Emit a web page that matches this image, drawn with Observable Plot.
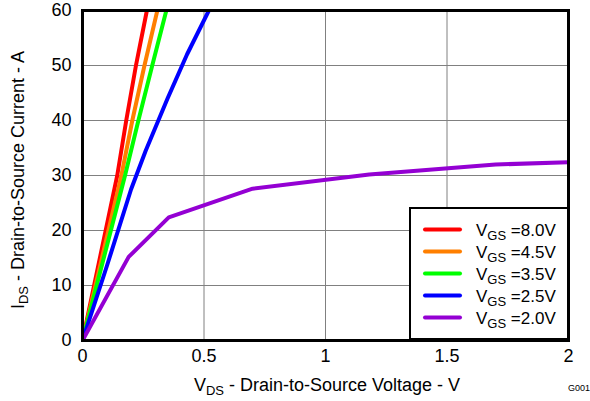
<!DOCTYPE html>
<html><head><meta charset="utf-8">
<script src="https://cdn.jsdelivr.net/npm/d3@7"></script>
<script src="https://cdn.jsdelivr.net/npm/@observablehq/plot@0.6"></script>
<style>body{margin:0;background:#fff;font-family:"Liberation Sans",Arial,sans-serif;}</style>
</head><body><div id="chart"></div>
<script>
const seriesNames = ["8.0V", "4.5V", "3.5V", "2.5V", "2.0V"];
const seriesColors = ["#ff0000", "#ff7f00", "#00ff00", "#0000ff", "#9400d3"];
const vgs80 = [[0,0],[0.143,30],[0.18,40],[0.22,50],[0.265,60]];
const vgs45 = [[0,0],[0.16,30],[0.205,40],[0.255,50],[0.308,60]];
const vgs35 = [[0,0],[0.175,30],[0.23,40],[0.287,50],[0.345,60]];
const vgs25 = [[0,0],[0.1,13.5],[0.2,27.5],[0.26,34.5],[0.35,44],[0.43,52],[0.52,60]];
const vgs20 = [[0,0],[0.19,15.2],[0.355,22.4],[0.70,27.6],[1.18,30.2],[1.70,32.0],[2.0,32.4]];
const xTicks = [0, 0.5, 1, 1.5, 2];
const yTicks = [0, 10, 20, 30, 40, 50, 60];

const allSeries = [vgs80, vgs45, vgs35, vgs25, vgs20];
const data = [];
allSeries.forEach((s, i) => s.forEach(([x, y]) => data.push({x, y, s: seriesNames[i]})));

const W = 590, H = 401;
const chart = Plot.plot({
  width: W, height: H,
  marginLeft: 82, marginRight: 22, marginTop: 10, marginBottom: 61,
  style: {fontFamily: '"Liberation Sans", Arial, sans-serif', fontSize: "18px", color: "#000", background: "#fff"},
  x: {domain: [0, 2], ticks: xTicks, tickFormat: d => String(d), label: null, tickSize: 0, tickPadding: 8},
  y: {domain: [0, 60], ticks: yTicks, label: null, tickSize: 0, tickPadding: 10},
  color: {domain: seriesNames, range: seriesColors},
  marks: [
    Plot.gridX(xTicks.slice(1, -1), {stroke: "#808080", strokeOpacity: 1, strokeWidth: 1}),
    Plot.gridY(yTicks.slice(1, -1), {stroke: "#808080", strokeOpacity: 1, strokeWidth: 1}),
    Plot.line(data, {x: "x", y: "y", z: "s", stroke: "s", strokeWidth: 4, clip: true}),
    Plot.axisX({ticks: xTicks, tickFormat: d => String(d), tickSize: 0, tickPadding: 9, label: null, fontSize: 18}),
    Plot.axisY({ticks: yTicks, tickSize: 0, tickPadding: 11, label: null, fontSize: 18}),
    Plot.frame({stroke: "#000", strokeWidth: 3})
  ]
});
document.getElementById("chart").appendChild(chart);

const svg = d3.select(chart);
const font = '"Liberation Sans", Arial, sans-serif';

// Legend
const lg = svg.append("g").attr("font-family", font).attr("font-size", 17).attr("text-anchor", "start");
lg.append("rect").attr("x", 410).attr("y", 208).attr("width", 158).attr("height", 131)
  .attr("fill", "#fff").attr("stroke", "#000").attr("stroke-width", 2);
seriesNames.forEach((n, i) => {
  const cy = 229.5 + i * 22;
  lg.append("line").attr("x1", 425).attr("x2", 460).attr("y1", cy).attr("y2", cy)
    .attr("stroke", seriesColors[i]).attr("stroke-width", 4).attr("stroke-linecap", "round");
  const t = lg.append("text").attr("x", 476).attr("y", cy + 6).attr("text-anchor", "start");
  t.append("tspan").text("V");
  t.append("tspan").attr("font-size", 13).attr("dy", 4).text("GS");
  t.append("tspan").attr("dy", -4).text(" =" + n);
});

// Y label
const yl = svg.append("text").attr("font-family", font).attr("font-size", 18)
  .attr("text-anchor", "middle").attr("transform", "translate(24,180) rotate(-90)");
yl.append("tspan").text("I");
yl.append("tspan").attr("font-size", 13).attr("dy", 4).text("DS");
yl.append("tspan").attr("dy", -4).text(" - Drain-to-Source Current - A");

// X label
const xl = svg.append("text").attr("font-family", font).attr("font-size", 18)
  .attr("text-anchor", "middle").attr("x", 327).attr("y", 391);
xl.append("tspan").text("V");
xl.append("tspan").attr("font-size", 13).attr("dy", 4).text("DS");
xl.append("tspan").attr("dy", -4).text(" - Drain-to-Source Voltage - V");

svg.append("text").attr("font-family", font).attr("font-size", 9)
  .attr("text-anchor", "end").attr("x", 590).attr("y", 391).text("G001");
</script></body></html>
